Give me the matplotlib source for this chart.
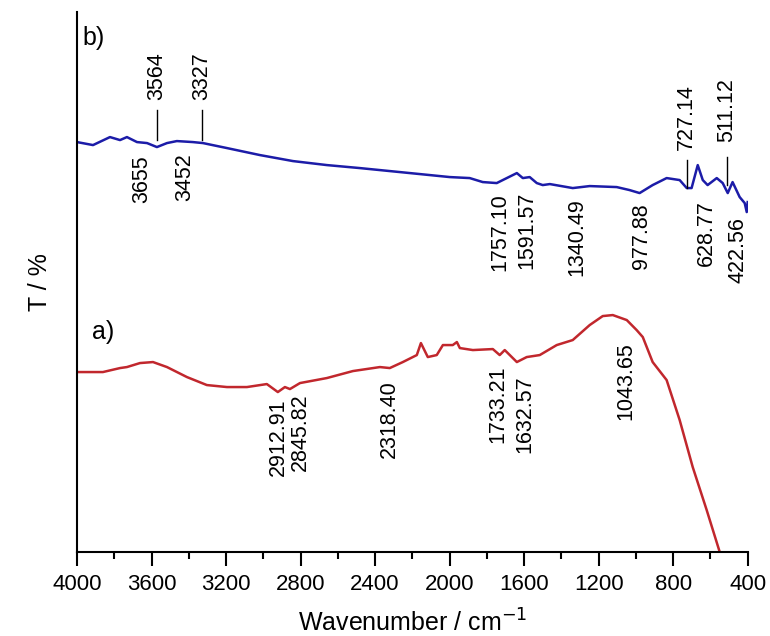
import matplotlib
matplotlib.use("Agg")
import matplotlib.pyplot as plt
from matplotlib.ticker import MultipleLocator

plt.rcParams['font.family'] = ['Liberation Sans', 'DejaVu Sans']

# Spectrum b) (blue): wavenumber, transmittance (arbitrary units)
b_wn = [4000, 3914, 3823, 3769, 3732, 3678, 3624, 3571, 3517, 3464, 3378, 3324,
        3195, 3018, 2841, 2659, 2482, 2267, 1999, 1892, 1822, 1747, 1693, 1639,
        1607, 1570, 1532, 1500, 1462, 1339, 1248, 1103, 1034, 980, 910, 835,
        765, 727, 701, 668, 641, 615, 566, 534, 507, 481, 443, 416, 405, 400]
b_T = [410, 407, 415, 412, 415, 410, 409, 405, 409, 411, 410, 409,
       404, 397, 391, 387, 384, 380, 375, 374, 370, 369, 374, 379,
       374, 375, 369, 367, 368, 364, 366, 365, 362, 359, 367, 374,
       372, 364, 364, 387, 372, 367, 374, 369, 359, 370, 355, 349, 340, 350]

# Spectrum a) (red)
a_wn = [4000, 3861, 3769, 3732, 3662, 3592, 3517, 3410, 3303, 3195, 3088, 2981,
        2922, 2884, 2857, 2803, 2659, 2519, 2374, 2321, 2251, 2176, 2154, 2117,
        2069, 2036, 1983, 1961, 1945, 1875, 1768, 1731, 1704, 1639, 1586, 1516,
        1425, 1339, 1248, 1178, 1124, 1049, 996, 963, 910, 835, 765, 695, 620, 550]
a_T = [180, 180, 184, 185, 189, 190, 185, 175, 167, 165, 165, 168,
       160, 165, 163, 169, 174, 181, 185, 184, 190, 197, 209, 195,
       197, 207, 207, 210, 204, 202, 203, 197, 202, 190, 195, 197,
       207, 212, 227, 236, 237, 232, 222, 215, 190, 172, 132, 85, 42, 0]

# Peak labels: (text, x position, label anchor y, side, tick line (y0, y1) or None)
b_labels = [("3564", 3571, 452, "up", (412, 442)),
            ("3327", 3329, 452, "up", (412, 442)),
            ("3655", 3651, 397, "down", None),
            ("3452", 3420, 399, "down", None),
            ("727.14", 727, 402, "up", (364, 392)),
            ("511.12", 513, 410, "up", (367, 395)),
            ("1757.10", 1731, 359, "down", None),
            ("1591.57", 1586, 360, "down", None),
            ("1340.49", 1317, 354, "down", None),
            ("977.88", 970, 349, "down", None),
            ("628.77", 622, 352, "down", None),
            ("422.56", 450, 335, "down", None)]
a_labels = [("2912.91", 2920, 154, "down"),
            ("2845.82", 2800, 159, "down"),
            ("2318.40", 2323, 172, "down"),
            ("1733.21", 1742, 187, "down"),
            ("1632.57", 1597, 177, "down"),
            ("1043.65", 1054, 210, "down")]

fig = plt.figure(figsize=(7.7, 6.36), dpi=100)
ax = fig.add_axes([0.1, 0.132, 0.871, 0.849])

ax.plot(b_wn, b_T, color="#1c1ca8", lw=1.8)
ax.plot(a_wn, a_T, color="#c1272d", lw=1.8, clip_on=True)

ax.set_xlim(4000, 400)
ax.set_ylim(0, 540)

fs = 15.5
for txt, x, y, side, line in b_labels:
    ax.text(x, y, txt, rotation=90, ha="center",
            va="bottom" if side == "up" else "top", fontsize=fs)
    if line is not None:
        ax.plot([x, x], line, color="black", lw=1)
for txt, x, y, side in a_labels:
    ax.text(x, y, txt, rotation=90, ha="center", va="top", fontsize=fs)

ax.text(0.008, 0.975, "b)", transform=ax.transAxes, fontsize=18, ha="left", va="top")
ax.text(0.022, 0.43, "a)", transform=ax.transAxes, fontsize=18, ha="left", va="top")

for s in ["top", "right"]:
    ax.spines[s].set_visible(False)
ax.spines["left"].set_linewidth(1.5)
ax.spines["bottom"].set_linewidth(1.5)
ax.set_yticks([])
ax.xaxis.set_major_locator(MultipleLocator(400))
ax.xaxis.set_minor_locator(MultipleLocator(200))
ax.tick_params(axis="x", which="major", direction="out", length=10, width=1.5,
               labelsize=16, pad=6)
ax.tick_params(axis="x", which="minor", direction="out", length=5, width=1.5)

ax.set_xlabel("Wavenumber / cm$^{\\mathsf{-1}}$", fontsize=18, labelpad=10)
ax.set_ylabel("T / %", fontsize=18, labelpad=18)

fig.savefig("out.png", dpi=100)
